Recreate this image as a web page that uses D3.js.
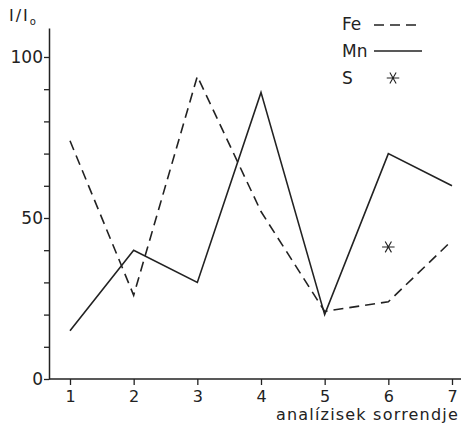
<!DOCTYPE html>
<html>
<head>
<meta charset="utf-8">
<script src="https://cdn.jsdelivr.net/npm/d3@7"></script>
<style>
  body { margin: 0; background: #fff; }
  svg { display: block; }
  text { font-family: "DejaVu Sans", sans-serif; fill: #222; }
</style>
</head>
<body>
<div id="chart"></div>
<script>
// Data
const order = [1, 2, 3, 4, 5, 6, 7];
const fe = [74, 26, 94, 52, 21, 24, 43];
const mn = [15, 40, 30, 89, 20, 70, 60];
const sulfur = [{ x: 6, y: 41 }];
const yTicks = [0, 10, 20, 30, 40, 50, 60, 70, 80, 90, 100];
const yLabels = [0, 50, 100];

const svgWidth = 461;
const svgHeight = 438;
const ink = "#222";

const svg = d3.select("#chart")
  .append("svg")
  .attr("width", svgWidth)
  .attr("height", svgHeight);

// Scales
const xScale = d3.scaleLinear().domain([1, 7]).range([70, 452]);
const yScale = d3.scaleLinear().domain([0, 109]).range([379, 28]);

// Y axis
const yAxis = d3.axisLeft(yScale)
  .tickValues(yTicks)
  .tickSize(5)
  .tickSizeOuter(0)
  .tickFormat(d => yLabels.includes(d) ? d : "");

const gy = svg.append("g")
  .attr("transform", "translate(49,0)")
  .call(yAxis);
gy.select(".domain").attr("stroke", ink).attr("stroke-width", 1.5);
gy.selectAll(".tick line").attr("stroke", ink).attr("stroke-width", 1.3);
gy.selectAll(".tick text")
  .attr("x", -6)
  .attr("font-size", 17)
  .style("fill", ink);

// X axis
const xAxis = d3.axisBottom(xScale)
  .tickValues(order)
  .tickSize(6)
  .tickSizeOuter(0)
  .tickFormat(d3.format("d"));

const gx = svg.append("g")
  .attr("transform", `translate(0,${yScale(0)})`)
  .call(xAxis);
gx.select(".domain").remove();
gx.append("line")
  .attr("x1", 49).attr("x2", svgWidth)
  .attr("stroke", ink).attr("stroke-width", 1.5);
gx.selectAll(".tick line").attr("stroke", ink).attr("stroke-width", 1.3);
gx.selectAll(".tick text")
  .attr("y", 12)
  .attr("font-size", 16)
  .style("fill", ink);

// Lines
const line = d3.line()
  .x((d, i) => xScale(order[i]))
  .y(d => yScale(d));

svg.append("path")
  .datum(fe)
  .attr("fill", "none")
  .attr("stroke", ink)
  .attr("stroke-width", 1.6)
  .attr("stroke-dasharray", "10,6")
  .attr("d", line);

svg.append("path")
  .datum(mn)
  .attr("fill", "none")
  .attr("stroke", ink)
  .attr("stroke-width", 1.6)
  .attr("d", line);

// S point as asterisk
const star = d3.symbol().type(d3.symbolAsterisk).size(110);
svg.selectAll(".s-point")
  .data(sulfur)
  .enter().append("path")
  .attr("class", "s-point")
  .attr("transform", d => `translate(${xScale(d.x)},${yScale(d.y)}) rotate(90)`)
  .attr("d", star)
  .attr("fill", "none")
  .attr("stroke", ink)
  .attr("stroke-width", 1.1);

// Axis titles
const yTitle = svg.append("text")
  .attr("x", 9)
  .attr("y", 21)
  .attr("font-size", 16)
  .attr("letter-spacing", 2);
yTitle.append("tspan").text("I/I");
yTitle.append("tspan").attr("font-size", 10).attr("dy", 4).text("o");

svg.append("text")
  .attr("x", 459)
  .attr("y", 420)
  .attr("text-anchor", "end")
  .attr("font-size", 16)
  .attr("letter-spacing", 1.2)
  .text("analízisek sorrendje");

// Legend
const legend = svg.append("g").attr("transform", "translate(342,0)");
legend.append("text").attr("x", 0).attr("y", 30).attr("font-size", 17).text("Fe");
legend.append("line")
  .attr("x1", 32).attr("x2", 78).attr("y1", 25).attr("y2", 25)
  .attr("stroke", ink).attr("stroke-width", 1.5)
  .attr("stroke-dasharray", "10,6");
legend.append("text").attr("x", 0).attr("y", 57).attr("font-size", 17).text("Mn");
legend.append("line")
  .attr("x1", 32).attr("x2", 80).attr("y1", 51).attr("y2", 51)
  .attr("stroke", ink).attr("stroke-width", 1.5);
legend.append("text").attr("x", 0).attr("y", 84).attr("font-size", 17).text("S");
legend.append("path")
  .attr("transform", "translate(51,78) rotate(90)")
  .attr("d", star)
  .attr("fill", "none")
  .attr("stroke", ink)
  .attr("stroke-width", 1.1);
</script>
</body>
</html>
